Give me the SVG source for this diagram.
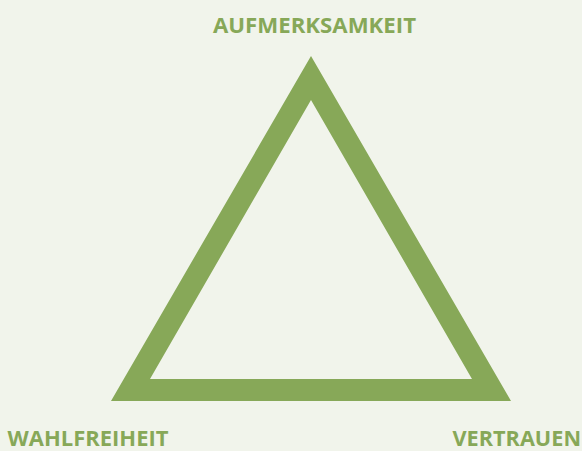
<svg xmlns="http://www.w3.org/2000/svg" width="582" height="451" viewBox="0 0 582 451">
<style>
.lbl{font-family:"Open Sans","Noto Sans","DejaVu Sans",sans-serif;font-weight:700;font-size:22px;fill:#87a858}
.tri{fill:#87a858;fill-rule:evenodd}
</style>
<rect width="582" height="451" fill="#f1f4eb"/>
<g id="connectors"></g>
<g id="triangle">
<path class="tri" d="M311,56 L111,401 L511,401 Z M311,100 L150,379 L472,379 Z"/>
</g>
<g id="aufmerksamkeit"><text class="lbl" x="213" y="33" textLength="203" lengthAdjust="spacingAndGlyphs">AUFMERKSAMKEIT</text></g>
<g id="wahlfreiheit"><text class="lbl" x="7.5" y="446" textLength="161" lengthAdjust="spacingAndGlyphs">WAHLFREIHEIT</text></g>
<g id="vertrauen"><text class="lbl" x="452.5" y="446" textLength="128.5" lengthAdjust="spacingAndGlyphs">VERTRAUEN</text></g>
</svg>
